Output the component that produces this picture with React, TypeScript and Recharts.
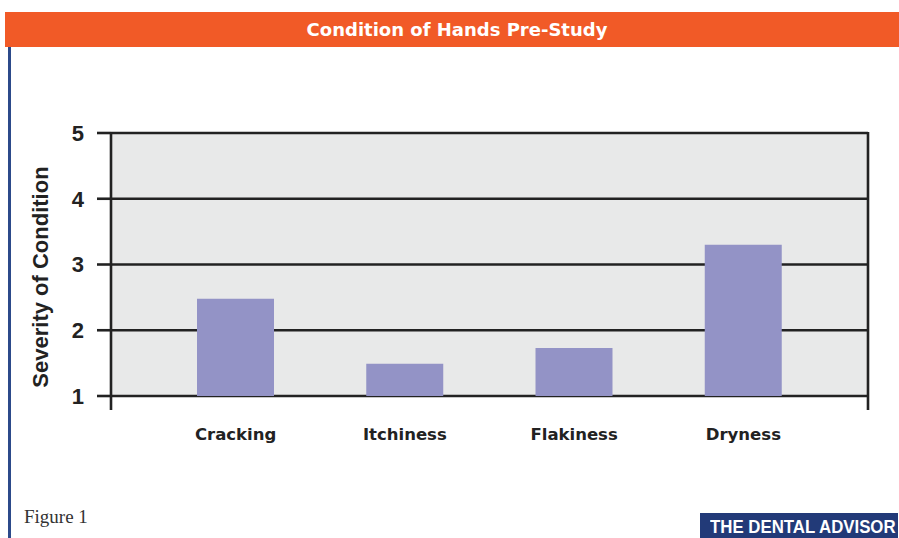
import React from 'react';
import { BarChart, Bar, XAxis, YAxis, CartesianGrid } from 'recharts';

const categories = ['Cracking', 'Itchiness', 'Flakiness', 'Dryness'];
const severity = [2.48, 1.49, 1.73, 3.3];
const yTicks = [1, 2, 3, 4, 5];

const data = categories.map((name, i) => ({ name, severity: severity[i] }));

const W = 899;
const H = 538;
// plot area edges (left/top/right/bottom)
const PL = 111;
const PT = 133;
const PR = 868;
const PB = 396;

export default function App() {
  return (
    <div
      style={{
        position: 'absolute',
        left: 0,
        top: 0,
        width: W,
        height: H,
        background: '#fff',
        overflow: 'hidden',
      }}
    >
      <div
        style={{
          position: 'absolute',
          left: 5,
          top: 12,
          width: W - 5,
          height: 35,
          background: '#f15a27',
          color: '#fff',
          fontFamily: '"DejaVu Sans", sans-serif',
          fontSize: 18,
          fontWeight: 'bold',
          lineHeight: '35px',
          textAlign: 'center',
          paddingLeft: 10,
          boxSizing: 'border-box',
        }}
      >
        Condition of Hands Pre-Study
      </div>
      <div
        style={{
          position: 'absolute',
          left: 8,
          top: 47,
          width: 3,
          height: H - 47,
          background: '#2c4a8a',
        }}
      />
      <div style={{ position: 'absolute', left: 0, top: 0 }}>
        <BarChart
          width={W}
          height={H}
          data={data}
          margin={{ top: PT, right: W - PR, bottom: 112, left: 50 }}
        >
          <CartesianGrid
            vertical={false}
            fill="#e8e9e9"
            fillOpacity={1}
            stroke="#222"
            strokeWidth={2.6}
          />
          <XAxis
            dataKey="name"
            axisLine={false}
            tickLine={false}
            tickSize={0}
            tickMargin={32}
            height={30}
            padding={{ left: 40, right: 40 }}
            tick={{
              fill: '#222',
              fontSize: 16.5,
              fontWeight: 'bold',
              fontFamily: '"DejaVu Sans", sans-serif',
            }}
          />
          <YAxis
            width={61}
            domain={[1, 5]}
            ticks={yTicks}
            axisLine={false}
            tickSize={14}
            tickMargin={13}
            tickLine={{ stroke: '#222', strokeWidth: 2.6 }}
            tick={{
              fill: '#222',
              fontSize: 22,
              fontWeight: 'bold',
              fontFamily: '"Liberation Sans", Arial, sans-serif',
            }}
          />
          <Bar dataKey="severity" fill="#9393c6" barSize={77} isAnimationActive={false} />
        </BarChart>
      </div>
      <svg
        width={W}
        height={H}
        style={{ position: 'absolute', left: 0, top: 0, pointerEvents: 'none' }}
      >
        <line x1={PL} y1={PT - 1} x2={PL} y2={PB + 14} stroke="#222" strokeWidth={2.6} />
        <line x1={PR} y1={PT - 1} x2={PR} y2={PB + 14} stroke="#222" strokeWidth={2.6} />
        <text
          x={40}
          y={277}
          transform="rotate(-90 40 277)"
          textAnchor="middle"
          dominantBaseline="central"
          fill="#222"
          fontSize={22}
          fontWeight="bold"
          fontFamily='"Liberation Sans", Arial, sans-serif'
        >
          Severity of Condition
        </text>
      </svg>
      <div
        style={{
          position: 'absolute',
          left: 24,
          top: 505,
          fontFamily: '"Liberation Serif", serif',
          fontSize: 19,
          color: '#333',
          lineHeight: '24px',
        }}
      >
        Figure 1
      </div>
      <div
        style={{
          position: 'absolute',
          left: 700,
          top: 513,
          width: 198,
          height: 25,
          background: '#223a78',
        }}
      >
        <div
          style={{
            position: 'absolute',
            left: 10,
            top: 0,
            color: '#fff',
            fontFamily: '"Liberation Sans", Arial, sans-serif',
            fontWeight: 'bold',
            fontSize: 19,
            lineHeight: '27px',
            whiteSpace: 'nowrap',
            transform: 'scaleX(0.885)',
            transformOrigin: 'left center',
          }}
        >
          THE DENTAL ADVISOR
        </div>
      </div>
    </div>
  );
}
